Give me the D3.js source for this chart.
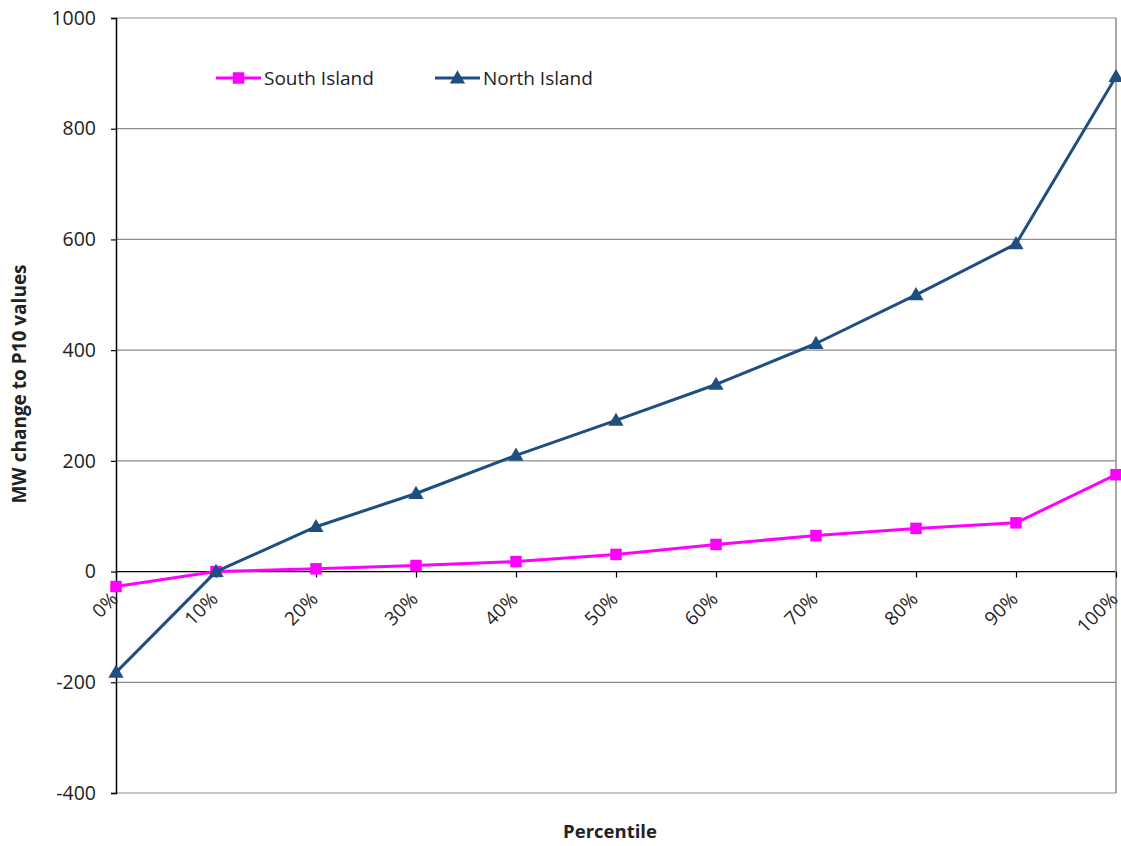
<!DOCTYPE html>
<html>
<head>
<meta charset="utf-8">
<script src="https://cdn.jsdelivr.net/npm/d3@7"></script>
<style>
  html, body { margin: 0; padding: 0; background: #fff; }
  svg text { font-family: "Open Sans", "Noto Sans", sans-serif; fill: #222; }
</style>
</head>
<body>
<svg id="chart" width="1121" height="846"></svg>
<script>
// Percentile categories along the x axis
const percentiles = ["0%", "10%", "20%", "30%", "40%", "50%", "60%", "70%", "80%", "90%", "100%"];
// MW change relative to P10 values
const southIsland = [-27, 0, 5, 11, 18, 31, 49, 65, 78, 88, 175];
const northIsland = [-182, 0, 81, 141, 210, 273, 338, 412, 500, 592, 894];
const yTicks = [-400, -200, 0, 200, 400, 600, 800, 1000];

const series = [
  { name: "South Island", values: southIsland, color: "#ff00ff", marker: "square" },
  { name: "North Island", values: northIsland, color: "#1f4e80", marker: "triangle" }
];

const margin = { left: 116, right: 5, top: 18, bottom: 53 };
const width = 1121, height = 846;
const svg = d3.select("#chart");

const x = d3.scalePoint().domain(percentiles).range([margin.left, width - margin.right]);
const y = d3.scaleLinear().domain([-400, 1000]).range([height - margin.bottom, margin.top]);

// Horizontal gridlines
svg.append("g").selectAll("line").data(yTicks).join("line")
  .attr("x1", x.range()[0]).attr("x2", x.range()[1])
  .attr("y1", d => y(d)).attr("y2", d => y(d))
  .attr("stroke", d => d === 0 ? "#000" : "#8c8c8c")
  .attr("stroke-width", 1.2);

// Right border
svg.append("line")
  .attr("x1", x.range()[1]).attr("x2", x.range()[1])
  .attr("y1", y(1000)).attr("y2", y(-400))
  .attr("stroke", "#8c8c8c").attr("stroke-width", 1.5);

// Y axis
const yAxis = svg.append("g")
  .attr("transform", `translate(${margin.left},0)`)
  .call(d3.axisLeft(y).tickValues(yTicks).tickSize(5).tickPadding(15).tickFormat(d => String(d)));
yAxis.select(".domain").attr("stroke", "#000").attr("stroke-width", 1.5);
yAxis.selectAll(".tick line").attr("stroke", "#000").attr("stroke-width", 1.2);
yAxis.selectAll(".tick text").attr("font-size", 19.5).attr("fill", "#222")
  .style("font-family", "'Open Sans', sans-serif");

// X axis along the zero line
const xAxis = svg.append("g")
  .attr("transform", `translate(0,${y(0)})`)
  .call(d3.axisBottom(x).tickSize(6).tickSizeOuter(0));
xAxis.select(".domain").remove();
xAxis.selectAll(".tick line").attr("stroke", "#000").attr("stroke-width", 1.2);
xAxis.selectAll(".tick text")
  .attr("font-size", 19).attr("fill", "#222")
  .style("font-family", "'Open Sans', sans-serif")
  .attr("text-anchor", "end")
  .attr("dy", null).attr("y", 0)
  .attr("transform", "translate(-1,25) rotate(-45)")
  .attr("dominant-baseline", "middle");

// Series lines and markers
const line = d3.line().x((d, i) => x(percentiles[i])).y(d => y(d));
const sq = d3.symbol().type(d3.symbolSquare).size(132);
const tri = d3.symbol().type(d3.symbolTriangle).size(100);

series.forEach(s => {
  svg.append("path").datum(s.values)
    .attr("fill", "none").attr("stroke", s.color).attr("stroke-width", 3)
    .attr("stroke-linejoin", "round").attr("d", line);
  svg.append("g").selectAll("path").data(s.values).join("path")
    .attr("transform", (d, i) => `translate(${x(percentiles[i])},${y(d) + (s.marker === "triangle" ? 1 : 0)})`)
    .attr("d", s.marker === "square" ? sq : tri)
    .attr("fill", s.color);
});

// Legend
const legendPos = [{ x: 216 }, { x: 435 }];
series.forEach((s, i) => {
  const g = svg.append("g").attr("transform", `translate(${legendPos[i].x},78)`);
  g.append("line").attr("x1", 0).attr("x2", 45).attr("y1", 0).attr("y2", 0)
    .attr("stroke", s.color).attr("stroke-width", 3);
  g.append("path").attr("transform", `translate(22.5,${s.marker === "triangle" ? 1 : 0})`)
    .attr("d", s.marker === "square" ? sq : tri).attr("fill", s.color);
  g.append("text").attr("x", 48).attr("y", 0).attr("dy", "0.35em")
    .attr("font-size", 19).text(s.name);
});

// Axis titles
svg.append("text")
  .attr("transform", `translate(26,384) rotate(-90)`)
  .attr("text-anchor", "middle")
  .attr("font-size", 19).attr("font-weight", "bold").attr("fill", "#000")
  .text("MW change to P10 values");

svg.append("text")
  .attr("x", 610).attr("y", 838)
  .attr("text-anchor", "middle")
  .attr("font-size", 18.5).attr("font-weight", "bold").attr("fill", "#000")
  .text("Percentile");
</script>
</body>
</html>
